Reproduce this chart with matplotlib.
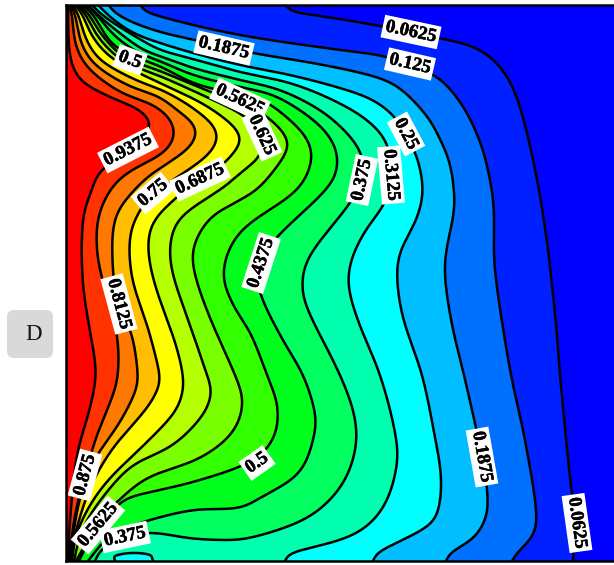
import numpy as np
import matplotlib
matplotlib.use("Agg")
import matplotlib.pyplot as plt
import matplotlib.patheffects as pe
from matplotlib.patches import FancyBboxPatch

W, H = 614, 565
X0, X1, Y0, Y1 = 66.0, 614.0, 4.5, 561.0

levels = [0.0625, 0.125, 0.1875, 0.25, 0.3125, 0.375, 0.4375, 0.5,
          0.5625, 0.625, 0.6875, 0.75, 0.8125, 0.875, 0.9375]
band_colors = ["#0000ff", "#0020ff", "#0070ff", "#00beff", "#00ffff", "#00ffaf",
               "#00ff5f", "#00ff1e", "#32ff00", "#78ff00", "#b4ff00", "#ffff00",
               "#ffbe00", "#ff7800", "#ff3200", "#ff0000"]

c0625_x = [285,285,300,340,385,439,474,497,514,527,539,547,552,557,560,572,578,573,573]
c0625_y = [4,10,13,19,27,38,47,63,90,133,190,242,285,335,375,495,523,552,561]
c1250_x = [140,140,193,240,283,340,387,434,451,467,482,491,494,494,499,511,524,536,534,514,512]
c1250_y = [4,10,25,35,42,50,57,75,90,113,147,185,212,258,302,375,435,508,535,555,561]
c1875_x = [108,108,127,160,195,253,307,357,390,410,430,437,449,454,454,446,445,452,464,476,482,487,487,474,446,446]
c1875_y = [4,8,20,32,40,53,62,72,82,97,120,133,160,190,212,252,278,325,375,428,457,488,515,538,555,561]
c2500_x = [97,110,133,160,193,240,290,340,373,395,406,417,423,417,400,397,403,422,434,441,439,430,373,373]
c2500_y = [4,17,33,43,53,65,75,88,100,117,135,157,190,218,252,278,318,375,432,475,508,525,555,561]
c3125_x = [91,102,118,143,160,193,240,290,333,367,387,391,385,367,353,348,357,380,395,397,383,353,285,285]
c3125_y = [4,15,26,41,50,59,72,83,100,120,143,175,203,228,255,282,318,375,432,465,508,535,555,561]
c3750_x = [87,98,112,143,160,193,240,280,320,347,362,362,350,310,302,307,340,355,355,340,307,250,220,187,157,125,103,95,95]
c3750_y = [4,15,27,50,56,68,80,90,110,133,155,180,203,255,282,308,375,418,452,488,518,538,540,538,533,535,548,556,561]
c4375_x = [84,95,107,123,143,160,193,240,273,307,330,338,330,277,258,260,280,303,315,315,300,260,240,193,143,110,103,88]
c4375_y = [4,12,28,43,55,61,75,87,95,115,137,160,185,237,265,293,335,375,412,432,472,498,508,510,522,535,542,561]
c5000_x = [81,92,102,115,143,160,193,240,263,290,308,312,297,240,223,233,250,267,278,273,250,193,127,115,85,79]
c5000_y = [4,12,30,47,60,66,83,95,100,120,140,160,190,232,272,305,332,375,408,440,462,482,498,508,548,561]
c5625_x = [78,88,100,123,143,160,213,240,265,287,288,260,240,210,193,195,210,235,243,233,200,147,117,100,76]
c5625_y = [4,12,33,57,65,71,93,103,115,137,150,187,200,218,248,275,318,375,402,432,458,478,502,520,561]
c6250_x = [76,85,95,117,143,160,213,243,257,263,260,240,227,180,170,173,190,207,212,203,173,133,110,90,80,74]
c6250_y = [4,12,33,57,70,76,100,115,128,143,157,173,185,218,245,275,325,375,392,415,445,465,488,515,535,561]
c6875_x = [74,82,90,110,147,160,210,242,230,223,200,177,153,148,155,175,183,183,175,147,110,90,76,72]
c6875_y = [4,12,33,57,77,83,108,137,157,165,178,197,222,248,285,342,375,392,412,442,478,505,535,561]
c7500_x = [72,78,85,100,140,160,193,218,210,173,153,140,130,132,148,160,160,147,113,90,73,71]
c7500_y = [4,12,37,60,82,89,108,132,153,180,193,210,235,278,328,375,385,408,448,488,542,561]
c8125_x = [70.5,75,80,93,127,160,173,197,190,153,137,115,113,119,132,138,137,120,93,80,72,70]
c8125_y = [4,12,40,63,85,97,107,128,147,173,187,218,272,304,335,375,388,422,462,498,542,561]
c8750_x = [69,72,75,87,120,157,175,167,127,110,98,97,103,117,118,113,97,85,75,69]
c8750_y = [4,12,43,67,92,107,128,150,173,190,218,252,282,335,375,395,435,475,515,561]
c9375_x = [68,68,70,80,110,140,152,150,128,98,93,83,83,93,96,90,77,70,68]
c9375_y = [4,12,57,80,97,110,123,130,150,173,187,218,285,348,375,408,455,520,561]

pocket_x = [115,115,132,150,153]
pocket_y = [561,556,553,555,561]
pocket_color = "#00ffff"

curves_x = [c0625_x, c1250_x, c1875_x, c2500_x, c3125_x, c3750_x, c4375_x, c5000_x,
            c5625_x, c6250_x, c6875_x, c7500_x, c8125_x, c8750_x, c9375_x]
curves_y = [c0625_y, c1250_y, c1875_y, c2500_y, c3125_y, c3750_y, c4375_y, c5000_y,
            c5625_y, c6250_y, c6875_y, c7500_y, c8125_y, c8750_y, c9375_y]

label_text = ["0.0625","0.125","0.1875","0.25","0.3125","0.375","0.4375","0.5","0.5625","0.625",
              "0.6875","0.75","0.8125","0.875","0.9375","0.5","0.5625","0.375","0.1875","0.0625"]
label_x = [411,410,224,406,391,362,261,130,240,262,200,153,119,85,128,257,98,125,482,577]
label_y = [32,64,48,134,175,180,263,60,100,135,179,193,304,475,150,463,525,537,457,523]
label_rot = [-12,-13,-13,-62,-85,78,72,-20,-25,-65,25,40,-75,75,27,35,50,12,-80,-82]


def spline(xs, ys, n=16):
    """Centripetal cubic Hermite through the read-off contour points."""
    p = np.column_stack([xs, ys]).astype(float)
    d = np.sqrt(np.hypot(*np.diff(p, axis=0).T))
    t = np.concatenate([[0], np.cumsum(d)])
    m = np.zeros_like(p)
    m[1:-1] = (p[2:] - p[:-2]) / (t[2:] - t[:-2])[:, None]
    m[0] = (p[1] - p[0]) / (t[1] - t[0])
    m[-1] = (p[-1] - p[-2]) / (t[-1] - t[-2])
    out = []
    for i in range(len(p) - 1):
        h = t[i + 1] - t[i]
        s = np.linspace(0, 1, n, endpoint=False)[:, None]
        out.append((2*s**3 - 3*s**2 + 1) * p[i] + (s**3 - 2*s**2 + s) * h * m[i]
                   + (-2*s**3 + 3*s**2) * p[i + 1] + (s**3 - s**2) * h * m[i + 1])
    out.append(p[-1:])
    return np.vstack(out)


def smooth(xs, ys, sigma=9.0):
    """Spline the points, resample by arc length and soften the reading jitter."""
    p = spline(xs, ys)
    seg = np.hypot(*np.diff(p, axis=0).T)
    s = np.concatenate([[0], np.cumsum(seg)])
    u = np.append(np.arange(0, s[-1], 0.5), s[-1])
    q = np.column_stack([np.interp(u, s, p[:, 0]), np.interp(u, s, p[:, 1])])
    r = int(3 * sigma / 0.5)
    g = np.exp(-0.5 * (np.arange(-r, r + 1) * 0.5 / sigma) ** 2)
    g /= g.sum()
    r = min(r, len(q) - 2)
    g = g[len(g) // 2 - r: len(g) // 2 + r + 1]
    g /= g.sum()
    head = 2 * q[0] - q[1:r + 1][::-1]
    tail = 2 * q[-1] - q[-r - 1:-1][::-1]
    ext = np.vstack([head, q, tail])
    return np.column_stack([np.convolve(ext[:, 0], g, "valid"),
                            np.convolve(ext[:, 1], g, "valid")])


plt.rcParams["font.family"] = ["Liberation Serif", "DejaVu Serif"]
fig = plt.figure(figsize=(W / 100, H / 100), dpi=100, facecolor="white")
ax = fig.add_axes([X0 / W, 1 - Y1 / H, (X1 - X0) / W, (Y1 - Y0) / H])
ax.set_xlim(X0, X1)
ax.set_ylim(Y1, Y0)
ax.set_facecolor(band_colors[-1])
ax.set_xticks([])
ax.set_yticks([])

# paint bands from the highest level to the lowest, each covering everything to its right
for i in range(len(levels) - 1, -1, -1):
    c = smooth(curves_x[i], curves_y[i])
    poly = np.vstack([c, [[X1 + 50, Y1 + 5], [X1 + 50, Y0 - 5]]])
    ax.fill(poly[:, 0], poly[:, 1], color=band_colors[i], lw=0, zorder=1 + (15 - i) * 0.01)
cp = smooth(pocket_x, pocket_y, sigma=1.0)
ax.fill(cp[:, 0], cp[:, 1], color=pocket_color, lw=0, zorder=1.5)
for i in range(len(levels)):
    c = smooth(curves_x[i], curves_y[i])
    ax.plot(c[:, 0], c[:, 1], color="black", lw=1.8, zorder=2, solid_joinstyle="round")
ax.plot(cp[:, 0], cp[:, 1], color="black", lw=1.8, zorder=2)

for k, (s, x, y, r) in enumerate(zip(label_text, label_x, label_y, label_rot)):
    t = ax.text(x, y, s, rotation=r, rotation_mode="anchor", ha="center", va="center",
                fontsize=13.5, fontweight="bold", color="black", zorder=3 + k * 0.01,
                bbox=dict(facecolor="white", edgecolor="none", pad=2.2))
    t.set_path_effects([pe.withStroke(linewidth=0.35, foreground="black")])

for side in ("left", "top", "bottom"):
    ax.spines[side].set_linewidth(1.8)
    ax.spines[side].set_color("black")
    ax.spines[side].set_zorder(10)
ax.spines["right"].set_visible(False)

overlay = fig.add_axes([0, 0, 1, 1], facecolor="none")
overlay.set_xlim(0, W)
overlay.set_ylim(H, 0)
overlay.axis("off")
overlay.add_patch(FancyBboxPatch((13, 316), 34, 36, boxstyle="round,pad=6,rounding_size=7",
                                 facecolor="#d9d9d9", edgecolor="none"))
overlay.text(34, 334.5, "D", fontsize=16.5, ha="center", va="center", color="#111111")

fig.savefig("out.png", dpi=100, facecolor="white")
